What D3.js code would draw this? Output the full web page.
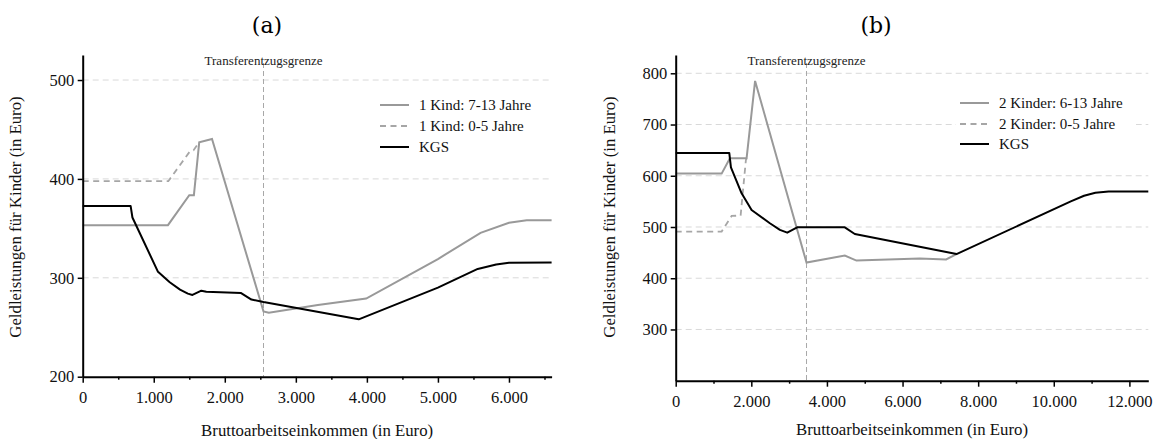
<!DOCTYPE html>
<html><head><meta charset="utf-8">
<script src="https://cdn.jsdelivr.net/npm/d3@7"></script>
<style>
body{margin:0;background:#fff;}
svg{display:block;}
svg text{font-family:"Liberation Serif","Times New Roman",Times,"DejaVu Serif",serif !important;}
svg text.title{font-family:"DejaVu Serif","Liberation Serif",serif !important;}
</style>
</head><body><svg id="c" width="1161" height="439"></svg>
<script>
// ---------- DATA ----------
// Panel (a): income (Euro) vs. benefits (Euro)
const a_kind713 = [[0,353.2],[1200,353.2],[1500,383.5],[1565,383.5],[1640,437],[1820,440.3],[2545,266],[2620,264.7],[3310,272.5],[3990,279],[5000,319],[5600,345.5],[6000,355.6],[6250,358.2],[6600,358.2]];
const a_kind05  = [[0,397.7],[1205,397.7],[1510,428],[1560,429],[1640,437]];
const a_kgs     = [[0,372.5],[675,372.5],[700,361],[1060,306],[1225,295.5],[1370,288],[1480,284],[1545,282.7],[1670,287],[1740,286],[2230,284.6],[2375,278],[2545,275.5],[3885,258],[5000,290],[5560,309],[5820,313.5],[6000,315.2],[6600,315.5]];
// Panel (b)
const b_kinder613 = [[0,604.2],[1215,604.2],[1434,634.1],[1875,634.1],[2100,785],[3460,430.5],[4473,444.2],[4781,434.4],[6454,438.3],[7152,436.8],[7427,447]];
const b_kinder05  = [[0,491.1],[1215,491.1],[1479,521.6],[1717,522.3],[1857,631],[1875,634.1]];
const b_kgs       = [[0,644.6],[1417,644.6],[1461,616.5],[1743,565.8],[2007,533.3],[2491,507.3],[2756,494.3],[2950,489],[3213,499.4],[4473,499.4],[4737,486.4],[7427,447.1],[10450,550],[10800,561],[11100,567],[11450,569.5],[12500,569.5]];

const xTicksA = [0,1000,2000,3000,4000,5000,6000];
const yTicksA = [200,300,400,500];
const xTicksB = [0,2000,4000,6000,8000,10000,12000];
const yTicksB = [300,400,500,600,700,800];
const legendA = ["1 Kind: 7-13 Jahre","1 Kind: 0-5 Jahre","KGS"];
const legendB = ["2 Kinder: 6-13 Jahre","2 Kinder: 0-5 Jahre","KGS"];
const titles = ["(a)","(b)"];
const grenzeA = 2545, grenzeB = 3460;
const grenzeLabel = "Transferentzugsgrenze";
const xLabel = "Bruttoarbeitseinkommen (in Euro)";
const yLabel = "Geldleistungen für Kinder (in Euro)";

// ---------- DRAW ----------
const svg = d3.select("#c");
const de = d3.formatLocale({decimal:",",thousands:".",grouping:[3],currency:["","€"]});
const fmt = de.format(",");

function panel(o){
  const g = svg.append("g");
  const x = d3.scaleLinear().domain(o.xDomain).range([o.x0,o.x1]);
  const y = d3.scaleLinear().domain(o.yDomain).range([o.yB,o.yT]);

  g.append("g").selectAll("line").data(o.grid).join("line")
    .attr("x1",o.x0).attr("x2",o.x1).attr("y1",d=>y(d)).attr("y2",d=>y(d))
    .attr("stroke","#d9d9d9").attr("stroke-width",1).attr("stroke-dasharray","6,4");

  g.append("line").attr("x1",x(o.vline)).attr("x2",x(o.vline))
    .attr("y1",o.yT+8).attr("y2",o.yB)
    .attr("stroke","#a8a8a8").attr("stroke-width",1).attr("stroke-dasharray","5,3");
  g.append("text").attr("x",x(o.vline)).attr("y",65).attr("text-anchor","middle")
    .attr("font-size",13).attr("fill","#222").text(grenzeLabel);

  const line = d3.line().x(d=>x(d[0])).y(d=>y(d[1]));
  g.append("path").attr("d",line(o.s2)).attr("fill","none").attr("stroke","#a6a6a6")
    .attr("stroke-width",1.8).attr("stroke-dasharray","6,4.5");
  g.append("path").attr("d",line(o.s1)).attr("fill","none").attr("stroke","#999")
    .attr("stroke-width",2);
  g.append("path").attr("d",line(o.s3)).attr("fill","none").attr("stroke","#000")
    .attr("stroke-width",2).attr("stroke-linejoin","round");

  const minor = d3.range(o.xDomain[0], o.xDomain[1]+1, o.minor).filter(v=>!o.xTicks.includes(v));
  const gxm = g.append("g").attr("transform",`translate(0,${o.yB})`)
    .call(d3.axisBottom(x).tickValues(minor).tickSize(3).tickSizeOuter(0).tickFormat(""));
  gxm.select(".domain").remove();
  const gx = g.append("g").attr("transform",`translate(0,${o.yB})`)
    .call(d3.axisBottom(x).tickValues(o.xTicks).tickSize(6).tickSizeOuter(0).tickPadding(9).tickFormat(fmt));
  const gy = g.append("g").attr("transform",`translate(${o.x0},0)`)
    .call(d3.axisLeft(y).tickValues(o.yTicks).tickSize(5).tickSizeOuter(0).tickPadding(3.5));
  [gx,gy,gxm].forEach(a=>{
    a.attr("font-family",null);
    a.selectAll("text").attr("font-size",16.5).attr("fill","#111");
    a.selectAll(".tick line").attr("stroke","#000").attr("stroke-width",1.5);
  });
  [gx,gy].forEach(a=>a.select(".domain").attr("stroke","#000").attr("stroke-width",2));

  g.append("text").attr("x",(o.x0+o.x1)/2).attr("y",o.xLabY).attr("text-anchor","middle")
    .attr("font-size",16.8).attr("fill","#111").text(xLabel);
  g.append("text").attr("transform",`translate(${o.yLabX},217) rotate(-90)`)
    .attr("text-anchor","middle").attr("font-size",16.8).attr("fill","#111").text(yLabel);

  g.append("text").attr("class","title").attr("x",o.titleX).attr("y",33).attr("text-anchor","middle")
    .attr("font-size",22).attr("fill","#000").text(o.title);

  const lg = g.append("g");
  lg.append("rect").attr("x",o.lx-4).attr("y",o.ly[0]-10).attr("width",o.lw).attr("height",o.ly[2]-o.ly[0]+20).attr("fill","#fff");
  const styles = [{c:"#999",d:null},{c:"#a6a6a6",d:"6,4.5"},{c:"#000",d:null}];
  o.legend.forEach((t,i)=>{
    lg.append("line").attr("x1",o.lx).attr("x2",o.lx+29).attr("y1",o.ly[i]).attr("y2",o.ly[i])
      .attr("stroke",styles[i].c).attr("stroke-width",2).attr("stroke-dasharray",styles[i].d);
    lg.append("text").attr("x",o.lx+39).attr("y",o.ly[i]+5).attr("font-size",15).attr("fill","#111").text(t);
  });
}

panel({x0:82.7,x1:551.6,yB:376.7,yT:55,xDomain:[0,6600],yDomain:[200,525.3],
  xTicks:xTicksA,yTicks:yTicksA,grid:[300,400,500],minor:500,vline:grenzeA,
  s1:a_kind713,s2:a_kind05,s3:a_kgs,title:titles[0],titleX:267,
  legend:legendA,lx:380,ly:[105,126,147],lw:160,xLabY:436,yLabX:21});
panel({x0:675.7,x1:1148.3,yB:380.7,yT:55,xDomain:[0,12500],yDomain:[200,835.7],
  xTicks:xTicksB,yTicks:yTicksB,grid:[300,400,500,600,700,800],minor:1000,vline:grenzeB,
  s1:b_kinder613,s2:b_kinder05,s3:b_kgs,title:titles[1],titleX:876,
  legend:legendB,lx:960,ly:[103,124,144],lw:180,xLabY:435,yLabX:615});
</script></body></html>
